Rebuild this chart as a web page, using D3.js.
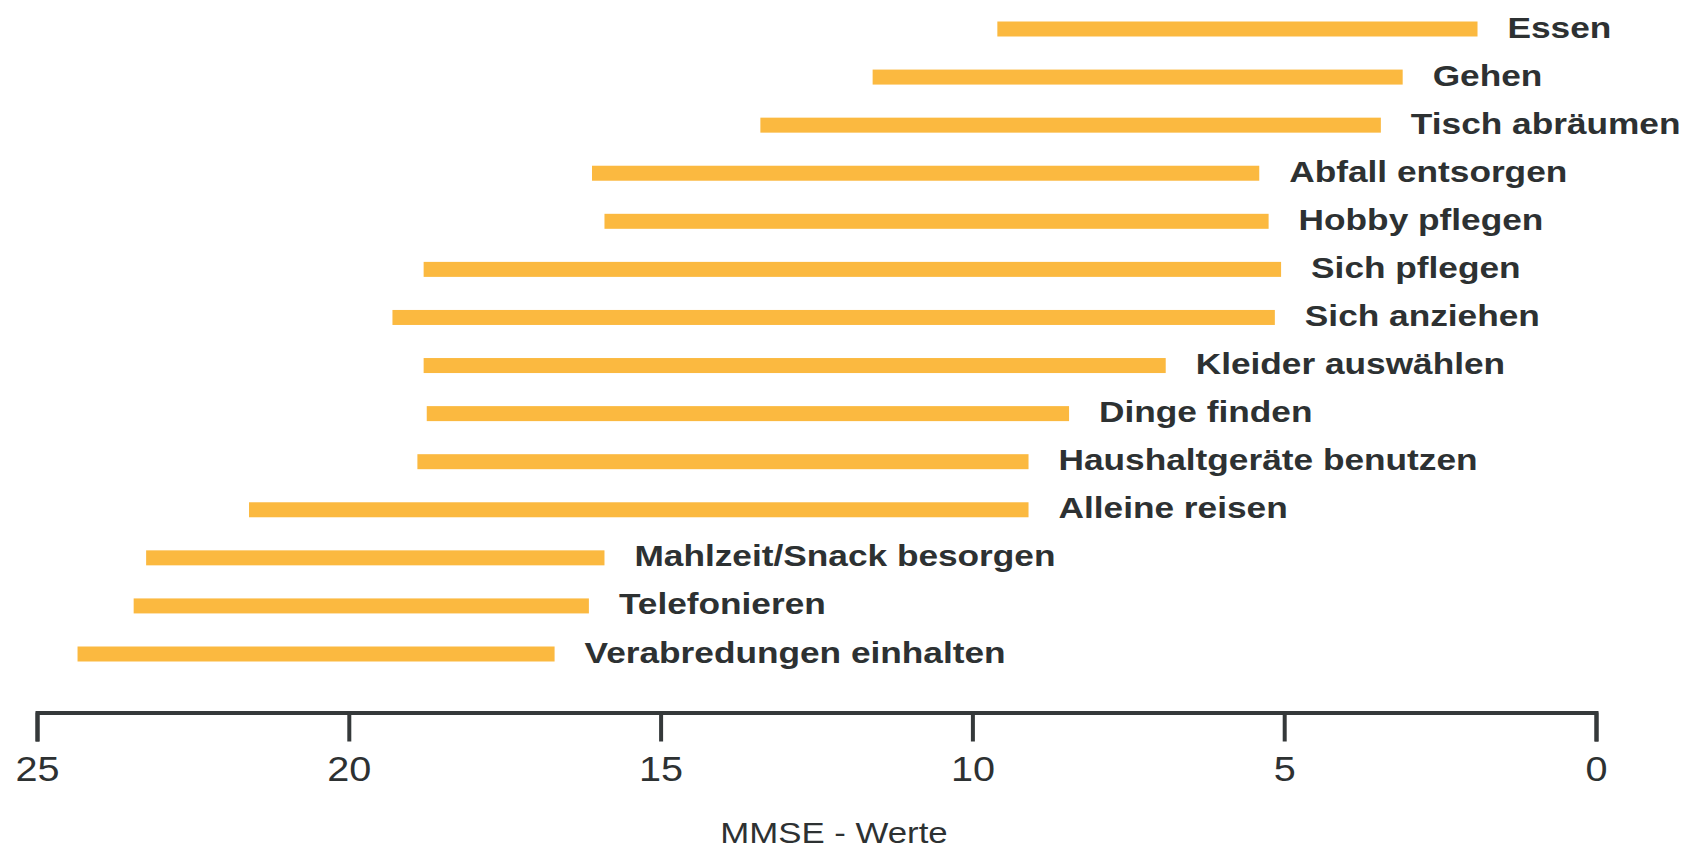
<!DOCTYPE html>
<html>
<head>
<meta charset="utf-8">
<script src="https://cdn.jsdelivr.net/npm/d3@7"></script>
<style>
    body { margin: 0; background: #fff; }
    .bar-label { font-family: "Liberation Sans", Arial, sans-serif; font-weight: bold; font-size: 30px; fill: #2d3132; }
    .tick-label { font-family: "Liberation Sans", Arial, sans-serif; font-size: 36px; fill: #2d3132; }
    .axis-title { font-family: "Liberation Sans", Arial, sans-serif; font-size: 30px; fill: #2d3132; }
</style>
</head>
<body>
<script>
// MMSE-Bereiche, in denen Alltagsfaehigkeiten verloren gehen
var activities = ["Essen", "Gehen", "Tisch abräumen", "Abfall entsorgen", "Hobby pflegen",
    "Sich pflegen", "Sich anziehen", "Kleider auswählen", "Dinge finden",
    "Haushaltgeräte benutzen", "Alleine reisen", "Mahlzeit/Snack besorgen",
    "Telefonieren", "Verabredungen einhalten"];
var startValues = [9.6, 11.6, 13.4, 16.1, 15.9, 18.8, 19.3, 18.8, 18.75, 18.9, 21.6, 23.25, 23.45, 24.35];
var endValues = [1.9, 3.1, 3.45, 5.4, 5.25, 5.05, 5.15, 6.9, 8.45, 9.1, 9.1, 15.9, 16.15, 16.7];
var tickValues = [25, 20, 15, 10, 5, 0];
var axisTitle = "MMSE - Werte";

var width = 1690, height = 848;
var stretch = 1.175;   // Originalschrift laeuft breiter

var svg = d3.select("body").append("svg")
    .attr("width", width)
    .attr("height", height);

var x = d3.scaleLinear().domain([25, 0]).range([37, 1596]);
var y = d3.scalePoint().domain(activities).range([29, 654]);

var rows = activities.map(function (a, i) {
    return { name: a, from: startValues[i], to: endValues[i] };
});

// Balken
svg.selectAll(".bar")
    .data(rows)
    .enter()
    .append("rect")
    .attr("class", "bar")
    .attr("x", function (d) { return x(d.from); })
    .attr("y", function (d) { return y(d.name) - 7.5; })
    .attr("width", function (d) { return x(d.to) - x(d.from); })
    .attr("height", 15)
    .style("fill", "#fbb940");

// Beschriftungen rechts vom Balken
svg.selectAll(".bar-label")
    .data(rows)
    .enter()
    .append("text")
    .attr("class", "bar-label")
    .attr("transform", function (d) {
        return "translate(" + (x(d.to) + 30) + "," + (y(d.name) + 8.5) + ") scale(" + stretch + ",1)";
    })
    .text(function (d) { return d.name; });

// Achse
var axis = d3.axisBottom(x)
    .tickValues(tickValues)
    .tickSize(29)
    .tickSizeOuter(29)
    .tickFormat(d3.format("d"));

var gAxis = svg.append("g")
    .attr("transform", "translate(0,712.5)")
    .call(axis);

gAxis.select(".domain")
    .attr("stroke", "#35393a")
    .attr("stroke-width", 4)
    .attr("fill", "none");
gAxis.selectAll(".tick line")
    .attr("stroke", "#35393a")
    .attr("stroke-width", 4);
gAxis.selectAll(".tick text")
    .attr("class", "tick-label")
    .attr("y", 0)
    .attr("dy", 0)
    .attr("font-family", null)
    .attr("font-size", null)
    .attr("fill", null)
    .attr("transform", "translate(0,68) scale(1.1,1)");
gAxis.attr("font-family", null).attr("font-size", null);

svg.append("text")
    .attr("class", "axis-title")
    .attr("text-anchor", "middle")
    .attr("transform", "translate(834,843) scale(1.16,1)")
    .text(axisTitle);
</script>
</body>
</html>
